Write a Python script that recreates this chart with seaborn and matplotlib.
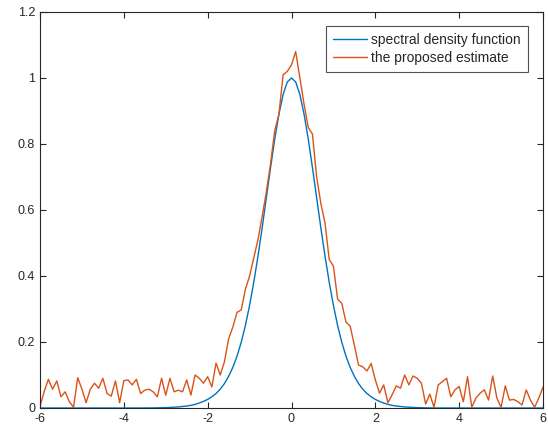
import numpy as np
import pandas as pd
import matplotlib
matplotlib.use("Agg")
import matplotlib.pyplot as plt
import seaborn as sns

x_values = [round(-6 + 0.1 * i, 1) for i in range(121)]

spectral_density = [
    0, 0, 0, 0, 0, 0, 0, 0, 0, 0,
    0, 0, 0, 0, 0, 0, 0, 0, 0, 0,
    0, 0, 0, 0, 0, 0.0001, 0.0002, 0.0003, 0.0005, 0.0008,
    0.0012, 0.0017, 0.0024, 0.0033, 0.0045, 0.006, 0.008, 0.011, 0.015, 0.020,
    0.026, 0.034, 0.044, 0.057, 0.074, 0.096, 0.123, 0.157, 0.199, 0.250,
    0.311, 0.381, 0.460, 0.546, 0.637, 0.728, 0.815, 0.890, 0.950, 0.988,
    1.0,
    0.988, 0.950, 0.890, 0.815, 0.728, 0.637, 0.546, 0.460, 0.381, 0.311,
    0.250, 0.199, 0.157, 0.123, 0.096, 0.074, 0.057, 0.044, 0.034, 0.026,
    0.020, 0.015, 0.011, 0.008, 0.006, 0.0045, 0.0033, 0.0024, 0.0017, 0.0012,
    0.0008, 0.0005, 0.0003, 0.0002, 0.0001, 0, 0, 0, 0, 0,
    0, 0, 0, 0, 0, 0, 0, 0, 0, 0,
    0, 0, 0, 0, 0, 0, 0, 0, 0, 0,
]

proposed_estimate = [
    0.005, 0.05, 0.087, 0.057, 0.082, 0.034, 0.049, 0.019, 0.002, 0.092,
    0.057, 0.016, 0.057, 0.075, 0.06, 0.09, 0.044, 0.036, 0.082, 0.016,
    0.083, 0.085, 0.07, 0.087, 0.044, 0.054, 0.057, 0.049, 0.034, 0.09,
    0.039, 0.09, 0.049, 0.054, 0.049, 0.085, 0.039, 0.10, 0.09, 0.075,
    0.095, 0.064, 0.136, 0.10, 0.14, 0.21, 0.245, 0.29, 0.297, 0.36,
    0.40, 0.455, 0.51, 0.58, 0.655, 0.74, 0.84, 0.89, 1.01, 1.02,
    1.04,
    1.08, 1.0, 0.92, 0.85, 0.83, 0.70, 0.62, 0.56, 0.45, 0.43,
    0.33, 0.317, 0.26, 0.248, 0.19, 0.13, 0.125, 0.112, 0.135, 0.085,
    0.045, 0.07, 0.016, 0.04, 0.067, 0.06, 0.10, 0.07, 0.097, 0.09,
    0.075, 0.012, 0.042, 0.002, 0.07, 0.08, 0.09, 0.034, 0.055, 0.065,
    0.019, 0.095, 0.002, 0.03, 0.045, 0.055, 0.024, 0.097, 0.03, 0.002,
    0.067, 0.024, 0.026, 0.019, 0.009, 0.055, 0.024, 0.002, 0.03, 0.063,
]

series_names = ["spectral density function", "the proposed estimate"]
x_ticks = [-6, -4, -2, 0, 2, 4, 6]
y_ticks = [0, 0.2, 0.4, 0.6, 0.8, 1.0, 1.2]
y_tick_labels = ["0", "0.2", "0.4", "0.6", "0.8", "1", "1.2"]

df = pd.DataFrame({
    "x": x_values * 2,
    "y": spectral_density + proposed_estimate,
    "series": [series_names[0]] * len(x_values) + [series_names[1]] * len(x_values),
})

sns.set_theme(style="white")
plt.rcParams["font.family"] = ["Liberation Sans", "DejaVu Sans"]

fig = plt.figure(figsize=(5.48, 4.34), dpi=100)
ax = fig.add_axes([40 / 548, 26 / 434, 503 / 548, 396 / 434])

sns.lineplot(data=df, x="x", y="y", hue="series", hue_order=series_names,
             palette=["#0072BD", "#D95319"], linewidth=1.0, ax=ax,
             estimator=None, sort=False)

ax.set_xlim(-6, 6)
ax.set_ylim(0, 1.2)
ax.set_xticks(x_ticks)
ax.set_xticklabels([str(t) for t in x_ticks])
ax.set_yticks(y_ticks)
ax.set_yticklabels(y_tick_labels)
ax.set_xlabel("")
ax.set_ylabel("")

for side in ["top", "right", "bottom", "left"]:
    ax.spines[side].set_visible(True)
    ax.spines[side].set_color("#262626")
    ax.spines[side].set_linewidth(0.8)

ax.tick_params(axis="both", which="both", direction="in", length=4, width=0.8,
               colors="#262626", labelsize=9, top=True, right=True,
               bottom=True, left=True, labelcolor="#262626")

leg = ax.legend(loc="upper right", bbox_to_anchor=(1 - 15 / 503, 1 - 14 / 396),
                frameon=True, fontsize=10, fancybox=False, borderpad=0.5,
                handlelength=2.4, handletextpad=0.35, labelspacing=0.3,
                borderaxespad=0.0)
leg.get_frame().set_edgecolor("#262626")
leg.get_frame().set_linewidth(0.8)
leg.set_title(None)
for line in leg.get_lines():
    line.set_linewidth(1.0)

fig.savefig("out.png", dpi=100)
